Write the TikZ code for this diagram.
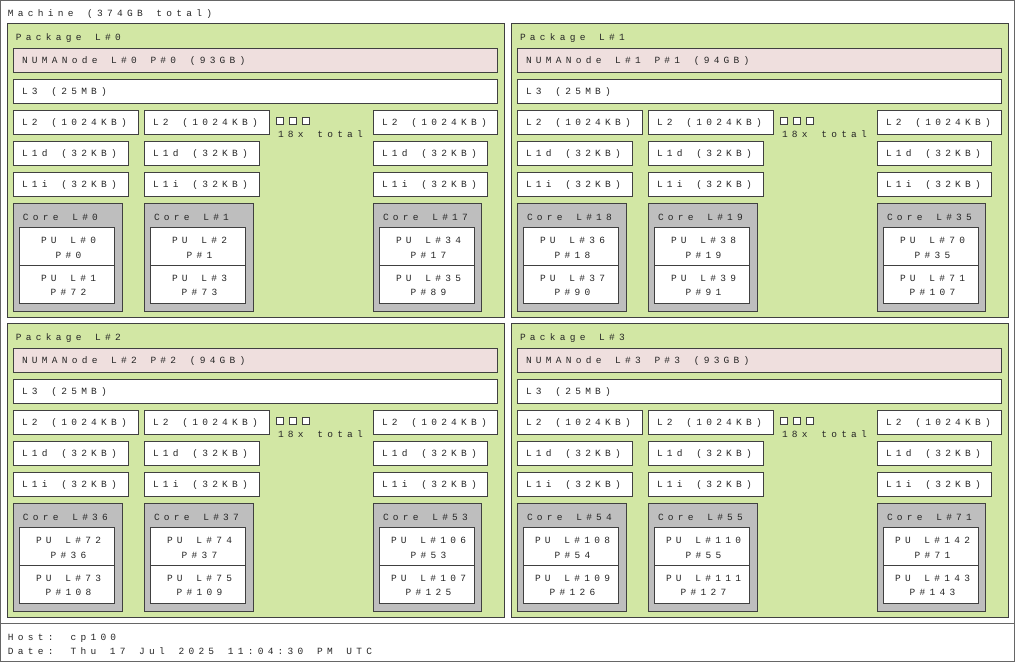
\documentclass[tikz,border=0pt]{standalone}
\usepackage{fontspec}
\newfontfamily\lsfont[LetterSpace=45, WordSpace={1.37,0,0}]{Liberation Mono}
\definecolor{pkgcol}{HTML}{D2E7A4}
\definecolor{numacol}{HTML}{EFDFDE}
\definecolor{corecol}{HTML}{BEBEBE}
\definecolor{linecol}{HTML}{404040}
\tikzset{
  bx/.style={draw=linecol, line width=1pt, inner sep=0pt, outer sep=0pt, anchor=north west},
  pkgbox/.style={bx, fill=pkgcol, minimum width=497, minimum height=294},
  numabox/.style={bx, fill=numacol, minimum width=484, minimum height=24},
  cachebox/.style={bx, fill=white, minimum height=24},
  corebox/.style={bx, fill=corecol, minimum width=109, minimum height=108},
  pubox/.style={bx, fill=white, minimum width=95, minimum height=38},
  sqbox/.style={bx, fill=white, minimum width=7, minimum height=7},
  txt/.style={inner sep=0pt, outer sep=0pt, anchor=base west, font=\lsfont\fontsize{9.5}{10}\selectfont, text=black!85},
  ctxt/.style={txt, anchor=base},
}
% core: #1 name, #2 x, #3 core num, #4 pu1 L, #5 pu1 P, #6 pu2 L, #7 pu2 P, #8 width
\newcommand\mkcore[8]{%
\begin{scope}[shift={(#2,180)}]
\node[corebox, minimum width=#8] (#1) at (0,0) {};
\node[txt] (#1-t) at (10,17) {Core L\##3};
\node[pubox] (#1-pa) at (6,24) {};
\node[ctxt] (#1-pa1) at (55.5,40.8) {PU L\##4};
\node[ctxt] (#1-pa2) at (55.5,55.1) {P\##5};
\node[pubox] (#1-pb) at (6,62) {};
\node[ctxt] (#1-pb1) at (55.5,78.1) {PU L\##6};
\node[ctxt] (#1-pb2) at (55.5,92.8) {P\##7};
\end{scope}}
% package: #1 name, #2 dx, #3 dy, #4 pkg num, #5 numa label
\newcommand\mkpkg[5]{%
\node[pkgbox] (#1) at (#2,#3) {};
\begin{scope}[shift={(#2,#3)}]
\node[txt] (#1-t) at (9,17.6) {Package L\##4};
\node[numabox] (#1-numa) at (6,25) {};
\node[txt] (#1-numat) at (15,40.1) {#5};
\node[cachebox, minimum width=484] (#1-l3) at (6,56) {};
\node[txt] (#1-l3t) at (15,71.1) {L3 (25MB)};
\node[cachebox, minimum width=125] (#1-l2a) at (6,87) {};
\node[txt] (#1-l2at) at (15,102.1) {L2 (1024KB)};
\node[cachebox, minimum width=125] (#1-l2b) at (137,87) {};
\node[txt] (#1-l2bt) at (146,102.1) {L2 (1024KB)};
\node[cachebox, minimum width=124] (#1-l2c) at (366,87) {};
\node[txt] (#1-l2ct) at (375,102.1) {L2 (1024KB)};
\node[cachebox, minimum width=115] (#1-l1da) at (6,118) {};
\node[txt] (#1-l1dat) at (15,133.1) {L1d (32KB)};
\node[cachebox, minimum width=115] (#1-l1db) at (137,118) {};
\node[txt] (#1-l1dbt) at (146,133.1) {L1d (32KB)};
\node[cachebox, minimum width=114] (#1-l1dc) at (366,118) {};
\node[txt] (#1-l1dct) at (375,133.1) {L1d (32KB)};
\node[cachebox, minimum width=115] (#1-l1ia) at (6,149) {};
\node[txt] (#1-l1iat) at (15,164.1) {L1i (32KB)};
\node[cachebox, minimum width=115] (#1-l1ib) at (137,149) {};
\node[txt] (#1-l1ibt) at (146,164.1) {L1i (32KB)};
\node[cachebox, minimum width=114] (#1-l1ic) at (366,149) {};
\node[txt] (#1-l1ict) at (375,164.1) {L1i (32KB)};
\node[sqbox] (#1-sqa) at (269,94) {};
\node[sqbox] (#1-sqb) at (282,94) {};
\node[sqbox] (#1-sqc) at (295,94) {};
\node[txt] (#1-tot) at (271,114.3) {18x total};
\end{scope}}
\begin{document}
\begin{tikzpicture}[x=1pt, y=-1pt]
\useasboundingbox (0,0) rectangle (1015,662);
\node[bx, draw=black!60, fill=white, minimum width=1014, minimum height=623] (machine) at (0.5,0.5) {};
\node[bx, draw=black!60, fill=white, minimum width=1014, minimum height=38] (legend) at (0.5,623.5) {};
\node[txt] (machinet) at (8,16.5) {Machine (374GB total)};
\node[txt] (host) at (8,640.5) {Host: cp100};
\node[txt] (date) at (8,654.8) {Date: Thu 17 Jul 2025 11:04:30 PM UTC};
%
\mkpkg{p0}{7}{23}{0}{NUMANode L\#0 P\#0 (93GB)}
\begin{scope}[shift={(7,23)}]
\mkcore{p0c0}{6}{0}{0}{0}{1}{72}{109}
\mkcore{p0c1}{137}{1}{2}{1}{3}{73}{109}
\mkcore{p0c17}{366}{17}{34}{17}{35}{89}{108}
\end{scope}
\mkpkg{p1}{511}{23}{1}{NUMANode L\#1 P\#1 (94GB)}
\begin{scope}[shift={(511,23)}]
\mkcore{p1c18}{6}{18}{36}{18}{37}{90}{109}
\mkcore{p1c19}{137}{19}{38}{19}{39}{91}{109}
\mkcore{p1c35}{366}{35}{70}{35}{71}{107}{108}
\end{scope}
\mkpkg{p2}{7}{323}{2}{NUMANode L\#2 P\#2 (94GB)}
\begin{scope}[shift={(7,323)}]
\mkcore{p2c36}{6}{36}{72}{36}{73}{108}{109}
\mkcore{p2c37}{137}{37}{74}{37}{75}{109}{109}
\mkcore{p2c53}{366}{53}{106}{53}{107}{125}{108}
\end{scope}
\mkpkg{p3}{511}{323}{3}{NUMANode L\#3 P\#3 (93GB)}
\begin{scope}[shift={(511,323)}]
\mkcore{p3c54}{6}{54}{108}{54}{109}{126}{109}
\mkcore{p3c55}{137}{55}{110}{55}{111}{127}{109}
\mkcore{p3c71}{366}{71}{142}{71}{143}{143}{108}
\end{scope}
\end{tikzpicture}
\end{document}
